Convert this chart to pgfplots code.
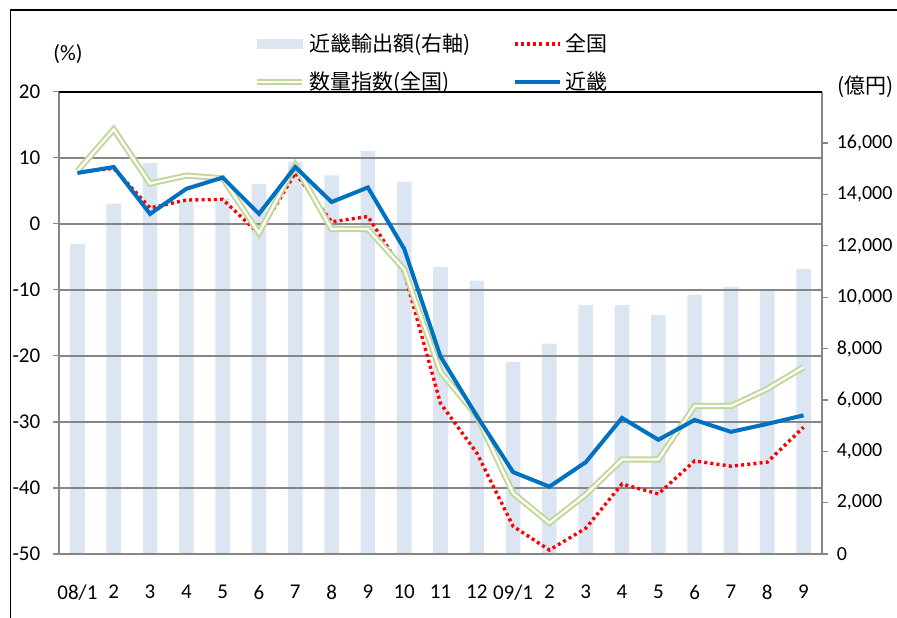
\documentclass[border=0pt]{standalone}
\usepackage{fontspec}
\setmainfont{Carlito}
\newfontfamily\cjk{Noto Sans CJK JP}
\usepackage{pgfplots}
\pgfplotsset{compat=1.18}

\definecolor{barfill}{HTML}{DCE6F2}
\definecolor{kinki}{HTML}{0070C0}
\definecolor{suryo}{HTML}{C3D69B}
\definecolor{gridgray}{HTML}{868686}

\pgfplotsset{
  linelegend/.style={legend image code/.code={\draw[##1] (0pt,0pt) -- (22.5pt,0pt);}},
  barlegend/.style={legend image code/.code={\fill[barfill] (0pt,-2.2pt) rectangle (22.5pt,2.2pt);}},
}

\pgfplotstableread{
x bar zenkoku suryo kinki
0  12070   7.8   8.0   7.7
1  13640   8.4  14.3   8.6
2  15220   2.4   6.1   1.5
3  13720   3.6   7.3   5.3
4  13850   3.7   6.9   7.0
5  14410  -1.5  -1.4   1.5
6  15280   7.7   8.9   8.6
7  14740   0.3  -0.8   3.3
8  15700   1.1  -0.8   5.5
9  14500  -7.4  -6.9  -3.8
10 11180 -27.2 -22.4 -20.1
11 10640 -34.7 -29.1 -29.1
12  7480 -45.8 -40.8 -37.6
13  8190 -49.4 -45.3 -39.8
14  9690 -46.1 -41.0 -36.1
15  9690 -39.4 -35.7 -29.4
16  9310 -40.9 -35.7 -32.7
17 10090 -35.9 -27.6 -29.7
18 10400 -36.7 -27.6 -31.5
19 10270 -36.1 -25.0 -30.3
20 11100 -30.8 -21.7 -29.0
}\datatable

\begin{document}
\fontsize{10}{12}\selectfont
\begin{tikzpicture}
\path[use as bounding box] (-29.65pt,-31.5pt) rectangle (418.85pt,277pt);

\pgfplotsset{
  common/.style={
    at={(0,0)}, anchor=south west,
    scale only axis, width=381.2pt, height=231.15pt,
    xmin=-0.5, xmax=20.5,
    clip mode=individual,
    tick align=outside,
    tick style={gridgray, line width=0.6pt},
    axis line style={gridgray, line width=0.9pt},
    /pgf/number format/assume math mode=true,
    tick label style={font=\fontsize{10.5}{12}\selectfont},
  }
}

% right axis: export value (bars)
\begin{axis}[common,
  axis x line=none, axis y line*=right,
  ymin=0, ymax=18000,
  ytick={0,2000,...,16000},
  scaled y ticks=false,
  major tick length=3pt,
  yticklabel style={xshift=1pt, font=\fontsize{10}{12}\selectfont,
    /pgf/number format/fixed, /pgf/number format/1000 sep={,}},
]
\addplot[ybar, bar width=7.3pt, fill=barfill, draw=none] table[x=x, y=bar] {\datatable};
\end{axis}

% left axis: growth rates (lines)
\begin{axis}[common,
  axis x line*=bottom, axis y line*=left,
  ymin=-50, ymax=20,
  ytick={-50,-40,...,20},
  ymajorgrids, grid style={gridgray, line width=0.9pt},
  major tick length=3pt,
  yticklabel style={xshift=-3pt},
  xtick={0,...,20},
  xticklabels={08/1,2,3,4,5,6,7,8,9,10,11,12,09/1,2,3,4,5,6,7,8,9},
  x tick style={draw=none},
  minor xtick={-0.5,0.5,...,20.5},
  minor x tick style={gridgray, line width=0.6pt},
  minor tick length=3pt,
  xticklabel style={yshift=-9pt},
  legend columns=2,
  legend cell align=left,
  legend style={draw=none, fill=none, at={(axis description cs:0.255,1.135)}, anchor=north west,
    font=\cjk\fontsize{10.5}{13}\selectfont,
    row sep=4.5pt, inner sep=0pt,
    nodes={inner sep=2pt},
    /tikz/every even column/.append style={column sep=19pt}},
]
\addlegendimage{barlegend}
\addlegendentry{近畿輸出額(右軸)}
\addplot[red, line width=1.7pt, dash pattern=on 1.5pt off 1.6pt, linelegend]
  table[x=x, y=zenkoku] {\datatable};
\addlegendentry{全国}
\addplot[suryo, line width=1pt, double=white, double distance=1.1pt, linelegend]
  table[x=x, y=suryo] {\datatable};
\addlegendentry{数量指数(全国)}
\addplot[kinki, line width=2pt, linelegend]
  table[x=x, y=kinki] {\datatable};
\addlegendentry{近畿}
\draw[black, line width=0.8pt] (rel axis cs:0,1) -- (rel axis cs:1,1);
\node[font=\fontsize{11}{13}\selectfont] at (rel axis cs:0.0114,1.082) {(\%)};
\node[font=\cjk\fontsize{10.5}{13}\selectfont] at (rel axis cs:1.058,1.01) {(億円)};
\end{axis}

\draw[black, line width=0.8pt] (-24.3pt,-40pt) -- (-24.3pt,271.9pt) -- (430pt,271.9pt);
\end{tikzpicture}
\end{document}
